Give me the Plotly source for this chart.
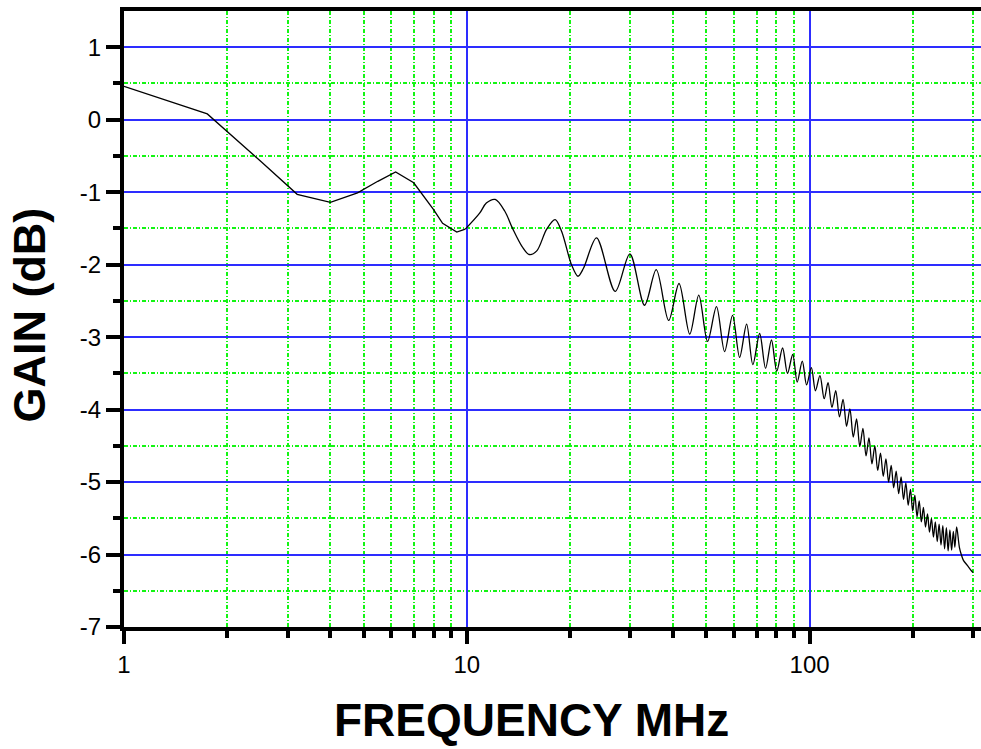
import plotly.graph_objects as go

# ---- data (frequency in MHz, gain in dB) ----
# low-frequency part (piecewise-linear in the reference)
FREQ_LOW = [1.0, 1.75, 2.5, 3.2, 4.0, 4.8, 5.5, 6.2, 7.0, 8.0, 8.5, 9.35, 9.9]
GAIN_LOW = [0.46, 0.08, -0.57, -1.03, -1.14, -1.01, -0.85, -0.72, -0.87, -1.24,
            -1.43, -1.55, -1.51]

# ripple part (peaks / troughs and a few intermediate readings)
FREQ_RIPPLE = [
    9.9, 10.9, 11.4, 12.1, 12.9, 13.6, 14.5, 15.2, 16.0, 17.1, 18.1, 18.9, 20.2,
    21.1, 21.9,
    23.9, 27.1, 29.9, 33.0, 35.7, 38.8, 41.6, 44.7, 47.5, 50.4, 53.5, 56.5,
    59.6, 62.5, 65.5, 68.3, 71.5, 74.4, 77.4, 80.2, 83.4, 86.2, 89.3, 92.0,
    95.2, 98.0, 101.2, 104.0, 107.2, 110.3, 113.2, 116.2, 119.2, 122.2,
    125.2, 128.2, 131.1, 134.1, 137.1, 140.1, 143.1, 146.1, 149.0, 152.0,
    155.0, 158.0, 161.0, 164.0, 167.0, 170.0, 173.0, 175.9, 178.9, 181.9,
    184.9, 187.9, 190.9, 193.9, 196.9, 199.8, 202.8, 205.8, 208.8, 211.8,
    214.8, 217.8, 220.8, 223.7, 226.7, 229.7, 232.7, 235.7, 238.7, 241.7,
    244.7, 247.6, 250.6, 253.6, 256.6, 259.6, 262.6, 265.3, 268.5,
    273.5, 277.0, 281.0, 288.5, 296.0, 300.0,
]
GAIN_RIPPLE = [
    -1.51, -1.29, -1.15, -1.10, -1.26, -1.50, -1.75, -1.86, -1.81, -1.51, -1.38,
    -1.54, -2.00, -2.16, -2.05,
    -1.63, -2.37, -1.85, -2.56, -2.07, -2.77, -2.26, -2.96, -2.42, -3.06,
    -2.58, -3.20, -2.70, -3.28, -2.82, -3.38, -2.95, -3.43, -3.04, -3.47,
    -3.15, -3.50, -3.24, -3.62, -3.33, -3.66, -3.42, -3.74, -3.53, -3.85,
    -3.63, -3.97, -3.74, -4.10, -3.86, -4.23, -3.99, -4.38, -4.13, -4.51,
    -4.26, -4.64, -4.39, -4.75, -4.50, -4.84, -4.60, -4.92, -4.68, -5.00,
    -4.77, -5.08, -4.85, -5.16, -4.93, -5.24, -5.01, -5.32, -5.10, -5.40,
    -5.18, -5.48, -5.26, -5.55, -5.35, -5.62, -5.44, -5.69, -5.50, -5.76,
    -5.55, -5.82, -5.58, -5.87, -5.60, -5.92, -5.63, -5.95, -5.66, -5.94,
    -5.68, -5.90, -5.62,
    -5.90, -6.00, -6.08, -6.15, -6.22, -6.25,
]

X_TICK_VALS = [1, 10, 100]
X_TICK_TEXT = ["1", "10", "100"]
X_MINOR_VALS = [2, 3, 4, 5, 6, 7, 8, 9, 20, 30, 40, 50, 60, 70, 80, 90, 200, 300]
Y_TICK_VALS = [-7, -6, -5, -4, -3, -2, -1, 0, 1]
Y_TICK_TEXT = ["-7", "-6", "-5", "-4", "-3", "-2", "-1", "0", "1"]
Y_MINOR_VALS = [-6.5, -5.5, -4.5, -3.5, -2.5, -1.5, -0.5, 0.5]

X_TITLE = "FREQUENCY MHz"
Y_TITLE = "GAIN (dB)"

BLUE = "rgb(45,45,255)"
GREEN = "rgb(20,245,20)"
GDASH = "4px,2px,1px,2px"
FONT = "Liberation Sans, Arial, sans-serif"

fig = go.Figure()
fig.add_trace(go.Scatter(
    x=FREQ_LOW, y=GAIN_LOW, mode="lines",
    line=dict(color="black", width=1.3, shape="linear"),
    showlegend=False, hoverinfo="skip",
))
fig.add_trace(go.Scatter(
    x=FREQ_RIPPLE, y=GAIN_RIPPLE, mode="lines",
    line=dict(color="black", width=1.3, shape="spline", smoothing=0.9),
    showlegend=False, hoverinfo="skip",
))

fig.update_layout(
    width=981, height=749,
    margin=dict(l=124, r=0, t=11, b=122),
    paper_bgcolor="white", plot_bgcolor="white",
    font=dict(family=FONT, color="black", size=24),
    xaxis=dict(
        type="log", range=[0, 2.5],
        tickmode="array", tickvals=X_TICK_VALS, ticktext=X_TICK_TEXT,
        ticks="outside", ticklen=13, tickwidth=3.5, tickcolor="black",
        showgrid=True, gridcolor=BLUE, gridwidth=2,
        showline=True, linecolor="black", linewidth=4, mirror=True,
        zeroline=False,
        tickfont=dict(size=24),
        minor=dict(tickmode="array", tickvals=X_MINOR_VALS, ticks="outside",
                   ticklen=7, tickwidth=3.5, tickcolor="black",
                   showgrid=True, gridcolor=GREEN, gridwidth=1.6, griddash=GDASH),
    ),
    yaxis=dict(
        range=[-7, 1.5],
        tickmode="array", tickvals=Y_TICK_VALS, ticktext=Y_TICK_TEXT,
        ticks="outside", ticklen=14, tickwidth=3.5, tickcolor="black",
        showgrid=True, gridcolor=BLUE, gridwidth=1.8,
        showline=True, linecolor="black", linewidth=4, mirror=False,
        zeroline=False,
        tickfont=dict(size=24),
        minor=dict(tickmode="array", tickvals=Y_MINOR_VALS, ticks="outside",
                   ticklen=7, tickwidth=3.5, tickcolor="black",
                   showgrid=True, gridcolor=GREEN, gridwidth=1.6, griddash=GDASH),
    ),
    annotations=[
        dict(text=X_TITLE, xref="paper", yref="paper", x=0.476, y=-0.151,
             xanchor="center", yanchor="middle", showarrow=False,
             font=dict(family=FONT, size=46, color="black", weight="bold")),
        dict(text=Y_TITLE, xref="paper", yref="paper", x=-0.1105, y=0.506,
             xanchor="center", yanchor="middle", showarrow=False, textangle=-90,
             font=dict(family=FONT, size=45, color="black", weight="bold")),
    ],
)

fig.write_html(
    "out.html",
    config={"displayModeBar": False},
    post_script="document.body.style.margin='0';document.body.style.overflow='hidden';",
)
